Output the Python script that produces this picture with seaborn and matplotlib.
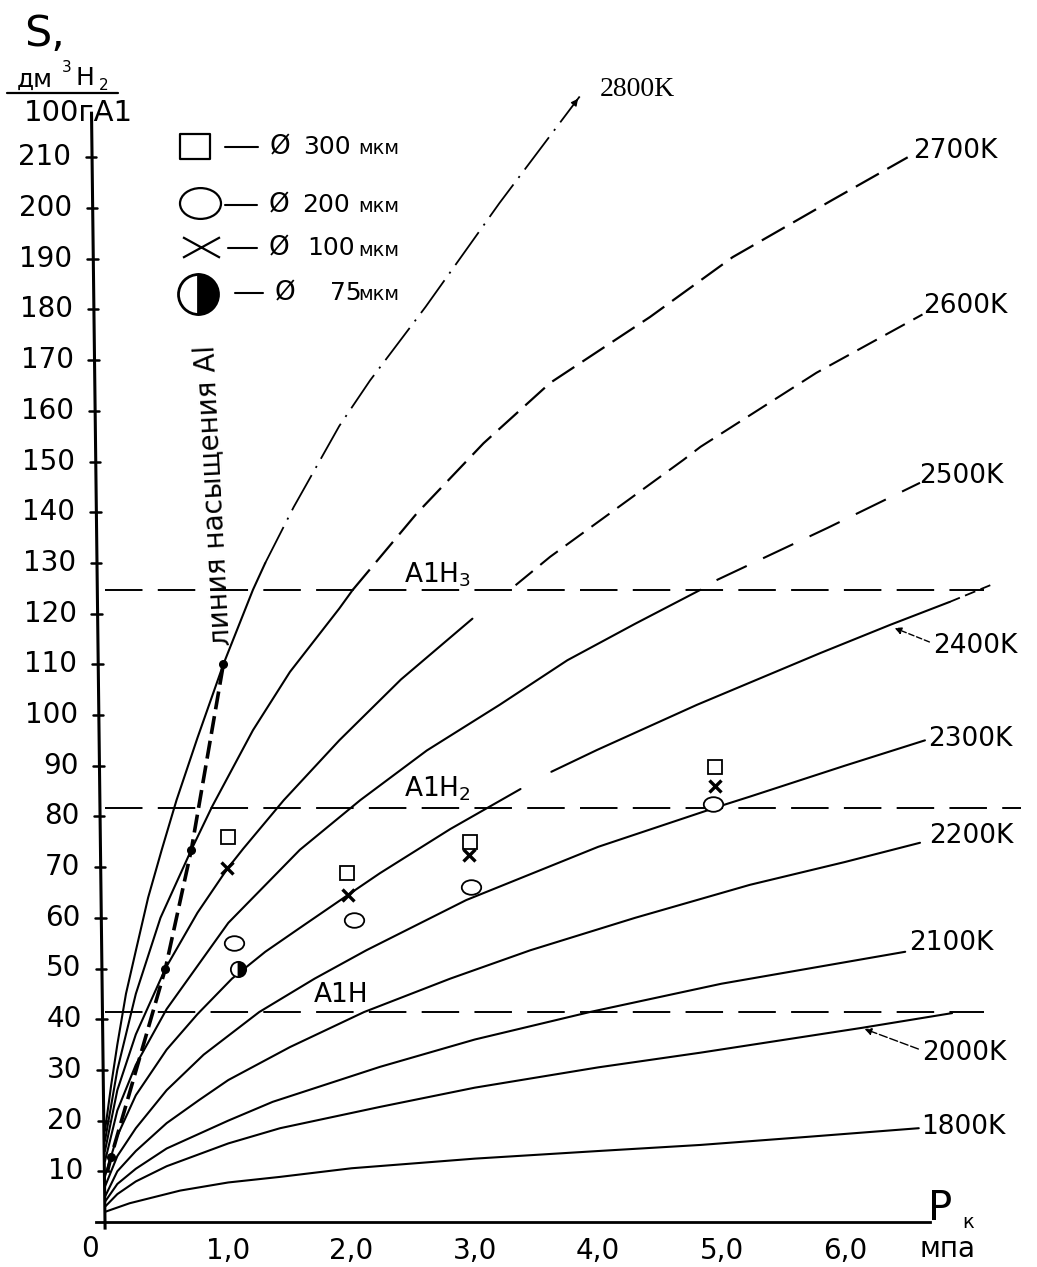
import matplotlib
matplotlib.use("Agg")
import matplotlib.pyplot as plt
from matplotlib.lines import Line2D
from matplotlib.path import Path
from matplotlib.transforms import Affine2D
import seaborn as sns

# Hydrogen solubility S (dm3 H2 per 100 g Al) versus pressure P (MPa), isotherms
p_1800 = [0, 0.2, 0.61, 1.0, 1.42, 2.0, 3.0, 4.0, 4.83, 5.7, 6.6]
s_1800 = [2, 3.7, 6.2, 7.8, 8.9, 10.6, 12.5, 14.0, 15.2, 16.8, 18.5]

p_2000 = [0, 0.1, 0.25, 0.5, 1.0, 1.42, 2.23, 3.0, 4.0, 4.83, 6.14, 6.87]
s_2000 = [3, 5.5, 8, 11, 15.5, 18.5, 22.7, 26.5, 30.5, 33.4, 38.3, 41.2]

p_2100 = [0, 0.1, 0.25, 0.5, 1.0, 1.36, 2.23, 3.0, 3.93, 5.0, 6.49]
s_2100 = [4, 7.5, 10.5, 14.5, 20, 23.7, 30.6, 36, 41.4, 47, 53.3]

p_2200 = [0, 0.1, 0.25, 0.5, 0.76, 1.0, 1.5, 2.1, 2.8, 3.45, 4.3, 5.23, 6.0, 6.61]
s_2200 = [5, 10, 14, 19.5, 24, 28, 34.5, 41.4, 48, 53.6, 60, 66.5, 71, 74.8]

p_2300 = [0, 0.1, 0.25, 0.5, 0.8, 1.25, 1.7, 2.12, 2.93, 4.0, 5.01, 5.23, 6.0, 6.65]
s_2300 = [7, 13, 18.5, 26, 33, 41.4, 48, 53.6, 63.5, 74, 82.2, 83.9, 90, 95]

p_2400_a = [0, 0.1, 0.25, 0.5, 0.75, 1.03, 1.3, 1.58, 1.97, 2.23, 2.8, 3.37]
s_2400_a = [9, 17, 25, 34, 41, 48, 53.3, 58, 64.5, 68.8, 77.5, 85.4]
p_2400_b = [3.62, 3.99, 4.8, 5.8, 6.37, 6.85]
s_2400_b = [88.8, 93.1, 102, 112.2, 117.8, 122.3]
p_2400_tail = [6.85, 7.18]
s_2400_tail = [122.3, 125.6]

p_2500_solid = [0, 0.1, 0.25, 0.5, 1.0, 1.58, 2.07, 2.61, 3.2, 3.75, 4.3, 4.83]
s_2500_solid = [12, 22, 31, 42, 59, 73.4, 83.2, 93, 102, 110.8, 118, 124.7]
p_2500_dash = [4.96, 5.86, 6.61]
s_2500_dash = [126.6, 136.9, 145.8]

p_2600_solid = [0, 0.1, 0.25, 0.49, 0.75, 0.99, 1.12, 1.45, 1.9, 2.4, 2.98]
s_2600_solid = [14, 26, 37, 50, 61, 69.6, 73.6, 83.2, 95, 107, 119]
p_2600_dash = [3.33, 3.61, 4.69, 4.83, 5.77, 6.63]
s_2600_dash = [125.6, 131.2, 150.3, 152.9, 167.5, 179]

p_2700_solid = [0, 0.1, 0.25, 0.45, 0.70, 0.87, 1.2, 1.5, 1.9, 2.01]
s_2700_solid = [16, 30, 45, 60, 73.4, 82, 97, 108.5, 121, 124.7]
p_2700_dash = [2.01, 2.53, 3.07, 3.61, 4.42, 5.09, 5.9, 6.51]
s_2700_dash = [124.7, 139.8, 153.6, 165.5, 178.5, 190.3, 201.6, 210]

p_2800_solid = [0, 0.05, 0.1, 0.17, 0.25, 0.35, 0.46, 0.58, 0.75, 0.96, 1.2, 1.30]
s_2800_solid = [18, 27, 35, 45, 53.5, 64, 73.4, 83.2, 95.5, 110, 124.7, 130]
p_2800_dash = [1.30, 1.53, 1.9, 2.15, 2.6, 3.2, 3.85]
s_2800_dash = [130, 141, 157, 166, 180.5, 201, 222]

# Saturation line of aluminium and its points on the isotherms
p_sat = [0.02, 0.05, 0.49, 0.70, 0.96]
s_sat = [10, 12.9, 50, 73.4, 110]
p_sat_pts = [0.05, 0.49, 0.70, 0.96]
s_sat_pts = [12.9, 50, 73.4, 110]

# Hydride levels AlH, AlH2, AlH3 and their extent along P
hydride_levels = [41.4, 81.7, 124.7]
hydride_p_end = [7.13, 7.43, 7.13]
hydride_names = ["A1H", "A1H$_2$", "A1H$_3$"]

# Experimental points by particle diameter
p_300 = [1.0, 1.96, 2.96, 4.95]
s_300 = [75.9, 68.9, 75.0, 89.7]
p_200 = [1.05, 2.02, 2.97, 4.93]
s_200 = [55.0, 59.6, 66.0, 82.4]
p_100 = [0.99, 1.97, 2.95, 4.95]
s_100 = [69.8, 64.5, 72.4, 86.0]
p_75 = [1.08]
s_75 = [49.9]

y_ticks = list(range(10, 211, 10))
x_ticks = [1, 2, 3, 4, 5, 6]
x_tick_labels = ["1,0", "2,0", "3,0", "4,0", "5,0", "6,0"]

# ---------------------------------------------------------------------------
sns.set_theme(style="white")
plt.rcParams["font.family"] = ["DejaVu Sans"]
plt.rcParams["text.color"] = "black"
plt.rcParams["xtick.color"] = "black"
plt.rcParams["ytick.color"] = "black"
plt.rcParams["axes.labelcolor"] = "black"
plt.rcParams["lines.scale_dashes"] = False
plt.rcParams["mathtext.fontset"] = "dejavusans"

W, H = 1037, 1267
fig = plt.figure(figsize=(W / 100, H / 100), dpi=100)
fig.patch.set_facecolor("white")


def px(x, y):
    return (x / W, 1 - y / H)


ax = fig.add_axes([105 / W, (H - 1222) / H, 7.45 * 123.3 / W, 222 * 5.07 / H])
ax.set_xlim(0, 7.45)
ax.set_ylim(0, 222)
ax.set_facecolor("white")
for side in ["top", "right", "left"]:
    ax.spines[side].set_visible(False)
ax.spines["bottom"].set_color("black")
ax.spines["bottom"].set_linewidth(2.0)
ax.spines["bottom"].set_bounds(-0.07, 6.69)

ax.set_xticks(x_ticks)
ax.set_xticklabels(x_tick_labels)
ax.tick_params(axis="x", direction="in", length=6, width=1.5, color="black",
               labelsize=20, pad=11, labelcolor="black")
ax.set_yticks([])
ax.set_xlabel("")
ax.set_ylabel("")

# Hand-drawn vertical axis, slightly leaning to the left
TILT = 0.0005
ax.plot([TILT * 1.5, -TILT * 219], [-1.5, 219], color="black", lw=2.2,
        clip_on=False, solid_capstyle="butt")
for s in y_ticks:
    x0 = -TILT * s
    ax.plot([x0 - 0.05, x0 + 0.035], [s, s], color="black", lw=1.8, clip_on=False)
    ax.text(x0 - 0.17, s, str(s), ha="right", va="center", fontsize=20, color="black")

solid = dict(color="black", lw=1.5, sort=False, estimator=None, legend=False)

# Isotherms
for p, s in [(p_1800, s_1800), (p_2000, s_2000), (p_2100, s_2100), (p_2200, s_2200),
             (p_2300, s_2300), (p_2400_a, s_2400_a), (p_2400_b, s_2400_b),
             (p_2500_solid, s_2500_solid), (p_2600_solid, s_2600_solid),
             (p_2700_solid, s_2700_solid), (p_2800_solid, s_2800_solid)]:
    sns.lineplot(x=p, y=s, ax=ax, **solid)

sns.lineplot(x=p_2400_tail, y=s_2400_tail, ax=ax, color="black", lw=1.3, sort=False,
             estimator=None, legend=False, linestyle=(0, (8, 4)))
sns.lineplot(x=p_2500_dash, y=s_2500_dash, ax=ax, color="black", lw=1.5, sort=False,
             estimator=None, legend=False, linestyle=(0, (24, 13)))
sns.lineplot(x=p_2600_dash, y=s_2600_dash, ax=ax, color="black", lw=1.5, sort=False,
             estimator=None, legend=False, linestyle=(0, (16, 7)))
sns.lineplot(x=p_2700_dash, y=s_2700_dash, ax=ax, color="black", lw=1.6, sort=False,
             estimator=None, legend=False, linestyle=(0, (19, 7)))
sns.lineplot(x=p_2800_dash, y=s_2800_dash, ax=ax, color="black", lw=1.3, sort=False,
             estimator=None, legend=False, linestyle=(0, (29, 6, 1.5, 6)))
ax.annotate("", xy=(p_2800_dash[-1], s_2800_dash[-1]),
            xytext=(p_2800_dash[-1] - 0.08 * (p_2800_dash[-1] - p_2800_dash[-2]),
                    s_2800_dash[-1] - 0.08 * (s_2800_dash[-1] - s_2800_dash[-2])),
            arrowprops=dict(arrowstyle="-|>", color="black", lw=1.0, mutation_scale=10),
            annotation_clip=False)

# Hydride levels
for lvl, pend in zip(hydride_levels, hydride_p_end):
    sns.lineplot(x=[0, pend], y=[lvl, lvl], ax=ax, color="black", lw=1.4, sort=False,
                 estimator=None, legend=False, linestyle=(0, (27, 11)))

# Saturation line
sns.lineplot(x=p_sat, y=s_sat, ax=ax, color="black", lw=2.6, sort=False,
             estimator=None, legend=False, linestyle=(0, (13, 5)))
ax.plot(p_sat_pts, s_sat_pts, linestyle="none", marker="o", markersize=5.5,
        color="black")

# Experimental points
rect_path = Path([(-0.6, -0.5), (0.6, -0.5), (0.6, 0.5), (-0.6, 0.5), (-0.6, -0.5)],
                 [Path.MOVETO, Path.LINETO, Path.LINETO, Path.LINETO, Path.CLOSEPOLY])
ellipse_path = Path.unit_circle().transformed(Affine2D().scale(1.33, 1.0))
cross_path = Path([(-1, -0.55), (1, 0.55), (-1, 0.55), (1, -0.55)],
                  [Path.MOVETO, Path.LINETO, Path.MOVETO, Path.LINETO])

ax.plot(p_300, s_300, linestyle="none", marker="s", markersize=10,
        markerfacecolor="white", markeredgecolor="black", markeredgewidth=1.3)
ax.plot(p_200, s_200, linestyle="none", marker=ellipse_path, markersize=14,
        markerfacecolor="white", markeredgecolor="black", markeredgewidth=1.3)
ax.plot(p_100, s_100, linestyle="none", marker="x", markersize=8.5,
        markeredgecolor="black", markeredgewidth=2.4)
ax.plot(p_75, s_75, linestyle="none", marker="o", markersize=11, fillstyle="right",
        markerfacecolor="black", markerfacecoloralt="white",
        markeredgecolor="black", markeredgewidth=1.3)

# Isotherm labels
for txt, x, y in [("2700K", 913, 151), ("2600K", 923, 306), ("2500K", 919, 476),
                  ("2400K", 933, 646), ("2300K", 928, 739), ("2200K", 929, 836),
                  ("2100K", 909, 943), ("2000K", 922, 1053), ("1800K", 921, 1127)]:
    fig.text(*px(x, y), txt, fontsize=19, ha="left", va="center", color="black")
fig.text(*px(600, 90), "2800K", fontsize=20, ha="left", va="center", color="black",
         family=["Liberation Serif", "DejaVu Serif"])

ax.annotate("", xy=px(892, 627), xycoords="figure fraction",
            xytext=px(932, 643), textcoords="figure fraction",
            arrowprops=dict(arrowstyle="-|>", color="black", lw=1.0,
                            linestyle=(0, (4, 2)), mutation_scale=10))
ax.annotate("", xy=px(862, 1028), xycoords="figure fraction",
            xytext=px(921, 1050), textcoords="figure fraction",
            arrowprops=dict(arrowstyle="-|>", color="black", lw=1.0,
                            linestyle=(0, (6, 2)), mutation_scale=10))

# Hydride labels
fig.text(*px(404, 575), hydride_names[2], fontsize=19, ha="left", va="center")
fig.text(*px(404, 789), hydride_names[1], fontsize=19, ha="left", va="center")
fig.text(*px(314, 995), hydride_names[0], fontsize=19, ha="left", va="center")

# Saturation line caption
fig.text(*px(213, 495), "линия насыщения Al", fontsize=20, rotation=93,
         ha="center", va="center", rotation_mode="anchor")

# Axis titles
fig.text(*px(24, 34), "S,", fontsize=31, ha="left", va="center")
fig.text(*px(17, 80), "дм", fontsize=18, ha="left", va="center")
fig.text(*px(62, 67), "3", fontsize=11, ha="left", va="center")
fig.text(*px(75, 78), "Н", fontsize=18, ha="left", va="center")
fig.text(*px(99, 86), "2", fontsize=11, ha="left", va="center")
fig.add_artist(Line2D([7 / W, 118 / W], [1 - 93 / H, 1 - 93 / H],
                      transform=fig.transFigure, color="black", lw=1.6))
fig.text(*px(24, 113), "100гА1", fontsize=21, ha="left", va="center")

fig.text(*px(928, 1209), "P", fontsize=29, ha="left", va="center")
fig.text(*px(962, 1222), "к", fontsize=14, ha="left", va="center")
fig.text(*px(920, 1249), "мпа", fontsize=20, ha="left", va="center")
fig.text(*px(90, 1249), "0", fontsize=20, ha="center", va="center")

# Legend
legend_rows = [
    (rect_path, 30, 195, 146, 225, 258, 147, "300", 303),
    (ellipse_path, 41, 200, 203, 225, 257, 205, "200", 302),
    (cross_path, 37, 201, 247, 228, 257, 248, "100", 307),
    ("o", 40, 198, 294, 235, 263, 293, "75", 330),
]
for marker, msize, mx, my, lx0, lx1, ty, num, nx in legend_rows:
    kw = dict(marker=marker, markersize=msize * 0.72, markeredgecolor="black",
              markeredgewidth=1.6, linestyle="none", transform=fig.transFigure)
    if marker == "o":
        kw.update(fillstyle="right", markerfacecolor="black",
                  markerfacecoloralt="white", markeredgewidth=2.0)
    else:
        kw.update(markerfacecolor="white")
    fig.add_artist(Line2D([mx / W], [1 - my / H], **kw))
    fig.add_artist(Line2D([lx0 / W, lx1 / W], [1 - ty / H, 1 - ty / H],
                          transform=fig.transFigure, color="black", lw=1.5))
    fig.text(*px(lx1 + 12, ty), "Ø", fontsize=19, ha="left", va="center")
    fig.text(*px(nx, ty), num, fontsize=18, ha="left", va="center")
    fig.text(*px(358, ty + 2), "мкм", fontsize=14, ha="left", va="center")

fig.savefig("out.png", dpi=100, facecolor="white")
